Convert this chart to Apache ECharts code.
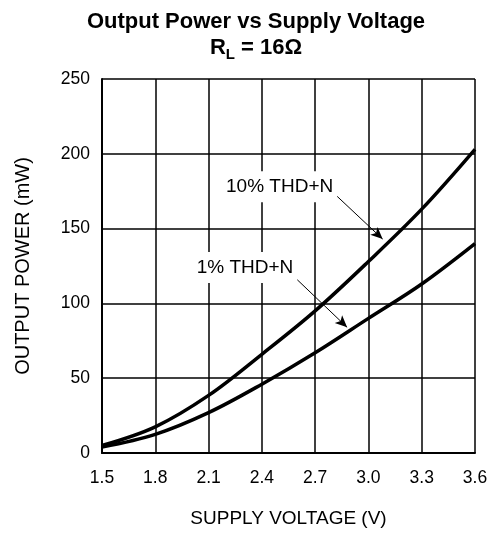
<!DOCTYPE html>
<html><head><meta charset="utf-8">
<script src="https://cdn.jsdelivr.net/npm/echarts@6/dist/echarts.min.js"></script>
<style>html,body{margin:0;padding:0;background:#fff}#c{width:497px;height:537px}</style>
</head><body><div id="c"></div>
<script>
const voltage = [1.5, 1.8, 2.1, 2.4, 2.7, 3.0, 3.3, 3.6];
const thd10 = [5, 17.5, 38.5, 66, 95, 128, 163, 203];
const thd1 = [4, 12.5, 27, 46, 67, 90, 113, 140];
const xTicks = ['1.5','1.8','2.1','2.4','2.7','3.0','3.3','3.6'];
const yTicks = [0, 50, 100, 150, 200, 250];
const labels = [
  {name: '10% THD+N', text: [2.50, 178], arrowFrom: [2.82, 172], arrowTo: [3.08, 143]},
  {name: '1% THD+N', text: [2.305, 124], arrowFrom: [2.58, 118], arrowTo: [2.88, 84]}
];
const font = 'Liberation Sans, Arial, Helvetica, sans-serif';
const chart = echarts.init(document.getElementById('c'), null, {renderer: 'canvas'});
const pairs = (ys) => voltage.map((v, i) => [v, ys[i]]);
chart.setOption({
  animation: false,
  backgroundColor: '#fff',
  title: {
    text: 'Output Power vs Supply Voltage',
    subtext: '{r|R}{s|L}{r| = 16Ω}',
    left: 251, textAlign: 'center', top: 6, itemGap: 1,
    textStyle: {fontFamily: font, fontSize: 22, fontWeight: 'bold', color: '#000'},
    subtextStyle: {
      rich: {
        r: {fontFamily: font, fontSize: 22, fontWeight: 'bold', color: '#000'},
        s: {fontFamily: font, fontSize: 15, fontWeight: 'bold', color: '#000', padding: [13, 0, 0, 0]}
      }
    }
  },
  grid: {left: 102, right: 22, top: 79, bottom: 84},
  xAxis: {
    type: 'value', min: 1.5, max: 3.6, interval: 0.3,
    name: 'SUPPLY VOLTAGE (V)', nameLocation: 'middle', nameGap: 56,
    nameTextStyle: {fontFamily: font, fontSize: 19, color: '#000', verticalAlign: 'top'},
    axisLine: {show: true, lineStyle: {color: '#000', width: 2}},
    axisTick: {show: false},
    axisLabel: {fontFamily: font, fontSize: 17.5, color: '#000', margin: 16,
      formatter: (v) => xTicks.find(t => Math.abs(parseFloat(t) - v) < 1e-6) || ''},
    splitLine: {show: true, lineStyle: {color: '#000', width: 1.5}}
  },
  yAxis: {
    type: 'value', min: 0, max: 250, interval: 50,
    name: 'OUTPUT POWER (mW)', nameLocation: 'middle', nameGap: 69, nameRotate: 90,
    nameTextStyle: {fontFamily: font, fontSize: 20, color: '#000'},
    axisLine: {show: true, lineStyle: {color: '#000', width: 2}},
    axisTick: {show: false},
    axisLabel: {fontFamily: font, fontSize: 17.5, color: '#000', margin: 12,
      formatter: (v) => yTicks.includes(v) ? String(v) : ''},
    splitLine: {show: true, lineStyle: {color: '#000', width: 1.5}}
  },
  series: [
    {
      type: 'line', data: pairs(thd10), smooth: 0.35, symbol: 'none',
      lineStyle: {color: '#000', width: 3.5}, z: 3
    },
    {
      type: 'line', data: pairs(thd1), smooth: 0.35, symbol: 'none',
      lineStyle: {color: '#000', width: 3.5}, z: 3
    },
    {
      type: 'scatter', symbolSize: 1, z: 5,
      itemStyle: {color: 'rgba(255,255,255,0)', opacity: 1},
      data: labels.map(l => ({value: l.text, name: l.name})),
      label: {show: true, position: 'inside', formatter: (p) => p.name,
        fontFamily: font, fontSize: 19, color: '#000', opacity: 1, textBorderWidth: 0, textBorderColor: 'transparent',
        backgroundColor: '#fff', padding: [6, 4]},
      markLine: {
        silent: true, symbol: ['none', 'arrow'], symbolSize: [8, 12],
        lineStyle: {color: '#000', width: 1, type: 'solid', opacity: 1},
        label: {show: false},
        data: labels.map(l => [{coord: l.arrowFrom}, {coord: l.arrowTo}])
      }
    }
  ]
});
</script></body></html>
